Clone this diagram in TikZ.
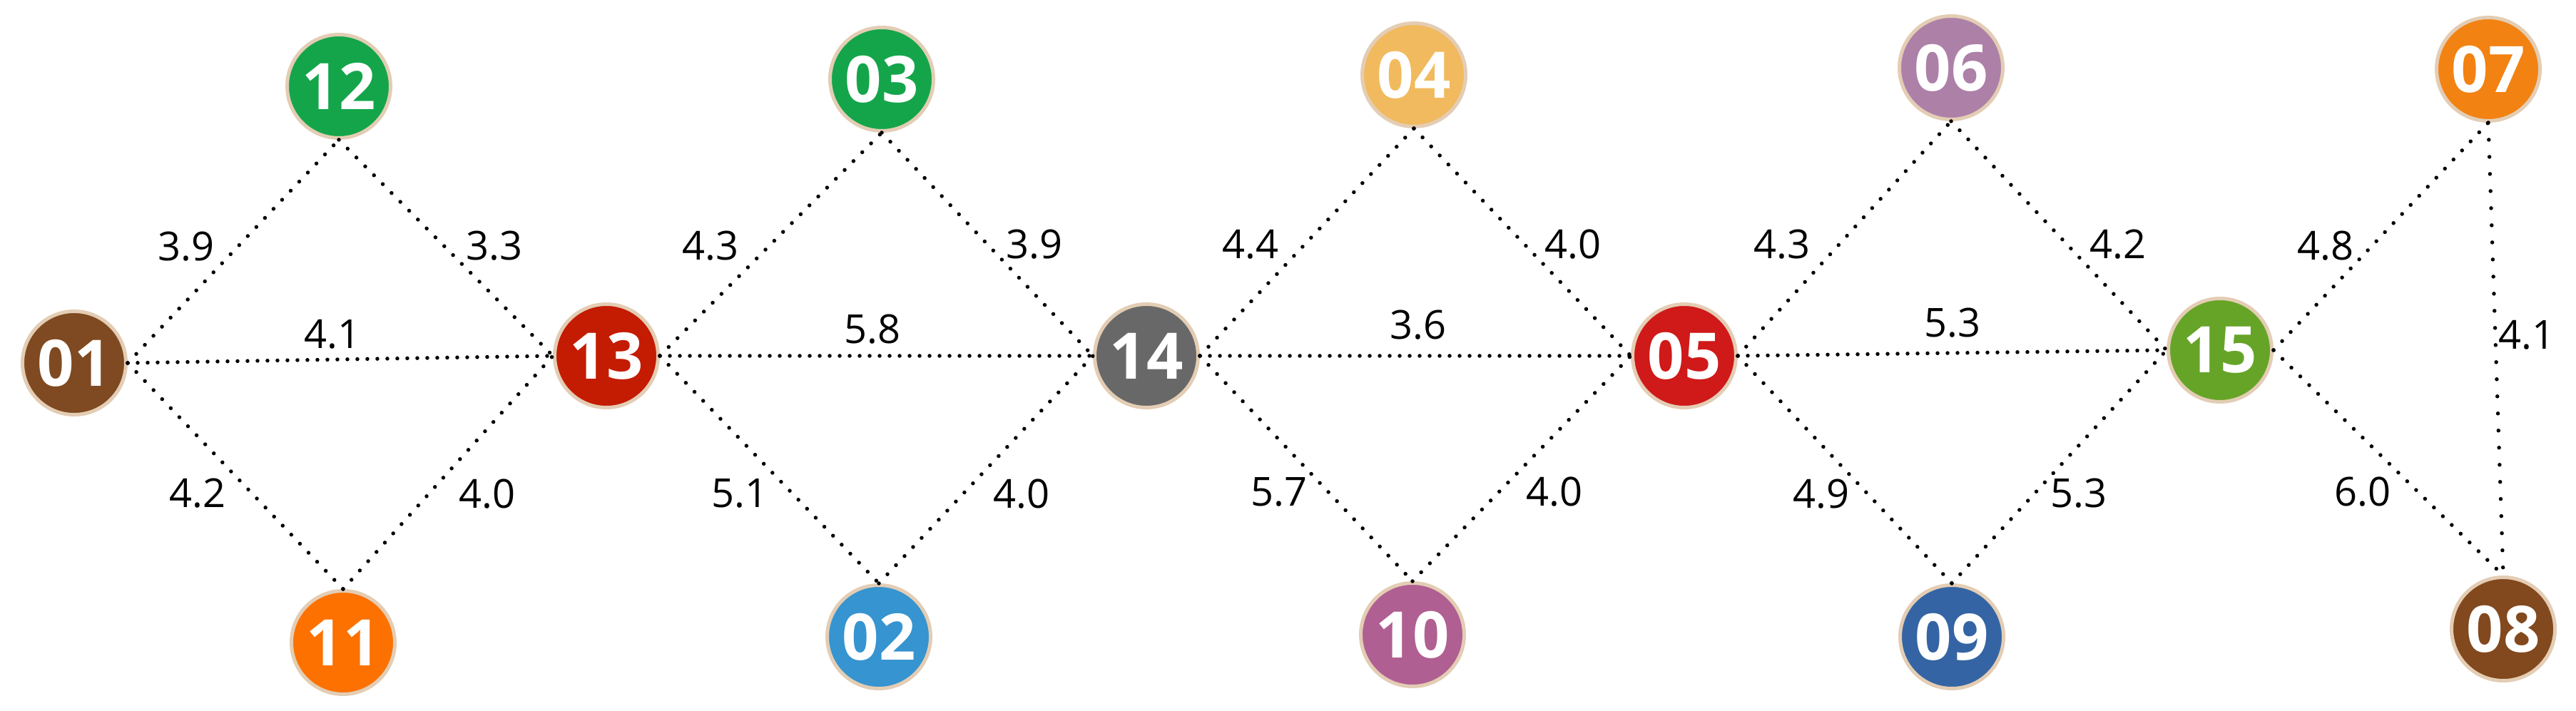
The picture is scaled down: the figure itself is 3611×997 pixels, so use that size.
\documentclass[tikz,border=0pt]{standalone}
\usepackage{fontspec}
\setmainfont{Open Sans}
\definecolor{bord}{HTML}{E3CDB4}
\definecolor{c01}{HTML}{7F4A21}
\definecolor{c12}{HTML}{14A54B}
\definecolor{c11}{HTML}{FC7100}
\definecolor{c13}{HTML}{C41B03}
\definecolor{c03}{HTML}{14A54B}
\definecolor{c02}{HTML}{3694D0}
\definecolor{c14}{HTML}{686868}
\definecolor{c04}{HTML}{F2BA5E}
\definecolor{c10}{HTML}{B05F92}
\definecolor{c05}{HTML}{D01919}
\definecolor{c06}{HTML}{AD80A8}
\definecolor{c09}{HTML}{3464A3}
\definecolor{c15}{HTML}{66A428}
\definecolor{c07}{HTML}{F28212}
\definecolor{c08}{HTML}{82481E}
\begin{document}
\begin{tikzpicture}[x=0.2pt,y=-0.2pt,
  vtx/.style={circle, draw=bord, line width=1pt, minimum size=29pt, inner sep=0pt,
    font=\bfseries\fontsize{18}{18}\selectfont, text=white},
  edg/.style={line width=1.1pt, line cap=round, dash pattern=on 0pt off 3.5pt},
  hedg/.style={edg, dash pattern=on 0pt off 2.8pt},
  vedg/.style={edg, dash pattern=on 0pt off 4.8pt},
  lab/.style={inner sep=0pt, font=\fontsize{11.2}{11.2}\selectfont}]
\useasboundingbox (0,0) rectangle (3611,997);
\node[vtx, fill=c01] (n01) at (104,509) {01};
\node[vtx, fill=c12] (n12) at (475,121) {12};
\node[vtx, fill=c11] (n11) at (481,901) {11};
\node[vtx, fill=c13] (n13) at (850,499) {13};
\node[vtx, fill=c03] (n03) at (1236,111) {03};
\node[vtx, fill=c02] (n02) at (1232,893) {02};
\node[vtx, fill=c14] (n14) at (1607,499) {14};
\node[vtx, fill=c04] (n04) at (1982,105) {04};
\node[vtx, fill=c10] (n10) at (1980,890) {10};
\node[vtx, fill=c05] (n05) at (2361,499) {05};
\node[vtx, fill=c06] (n06) at (2735,95) {06};
\node[vtx, fill=c09] (n09) at (2736,893) {09};
\node[vtx, fill=c15] (n15) at (3112,491) {15};
\node[vtx, fill=c07] (n07) at (3488,97) {07};
\node[vtx, fill=c08] (n08) at (3509,882) {08};
% edges
\draw[edg] (n01.east) -- (n12.south);
\draw[edg] (n12.south) -- (n13.west);
\draw[hedg] (n01.east) -- (n13.west);
\draw[edg] (n01.east) -- (n11.north);
\draw[edg] (n11.north) -- (n13.west);
\draw[edg] (n13.east) -- (n03.south);
\draw[edg] (n03.south) -- (n14.west);
\draw[hedg] (n13.east) -- (n14.west);
\draw[edg] (n13.east) -- (n02.north);
\draw[edg] (n02.north) -- (n14.west);
\draw[edg] (n14.east) -- (n04.south);
\draw[edg] (n04.south) -- (n05.west);
\draw[hedg] (n14.east) -- (n05.west);
\draw[edg] (n14.east) -- (n10.north);
\draw[edg] (n10.north) -- (n05.west);
\draw[edg] (n05.east) -- (n06.south);
\draw[edg] (n06.south) -- (n15.west);
\draw[hedg] (n05.east) -- (n15.west);
\draw[edg] (n05.east) -- (n09.north);
\draw[edg] (n09.north) -- (n15.west);
\draw[edg] (n15.east) -- (n07.south);
\draw[vedg] (n07.south) -- (n08.north);
\draw[edg] (n15.east) -- (n08.north);
% labels
\node[lab] (l1) at (261,346) {3.9};
\node[lab] (l2) at (693,345) {3.3};
\node[lab] (l3) at (466,469) {4.1};
\node[lab] (l4) at (277,692) {4.2};
\node[lab] (l5) at (683,693) {4.0};
\node[lab] (l6) at (996,345) {4.3};
\node[lab] (l7) at (1450,343) {3.9};
\node[lab] (l8) at (1223,462) {5.8};
\node[lab] (l9) at (1037,692) {5.1};
\node[lab] (l10) at (1432,693) {4.0};
\node[lab] (l11) at (1753,343) {4.4};
\node[lab] (l12) at (2205,343) {4.0};
\node[lab] (l13) at (1988,456) {3.6};
\node[lab] (l14) at (1793,690) {5.7};
\node[lab] (l15) at (2179,690) {4.0};
\node[lab] (l16) at (2498,343) {4.3};
\node[lab] (l17) at (2969,343) {4.2};
\node[lab] (l18) at (2737,453) {5.3};
\node[lab] (l19) at (2553,693) {4.9};
\node[lab] (l20) at (2914,692) {5.3};
\node[lab] (l21) at (3260,345) {4.8};
\node[lab] (l22) at (3542,470) {4.1};
\node[lab] (l23) at (3312,690) {6.0};
\end{tikzpicture}
\end{document}
